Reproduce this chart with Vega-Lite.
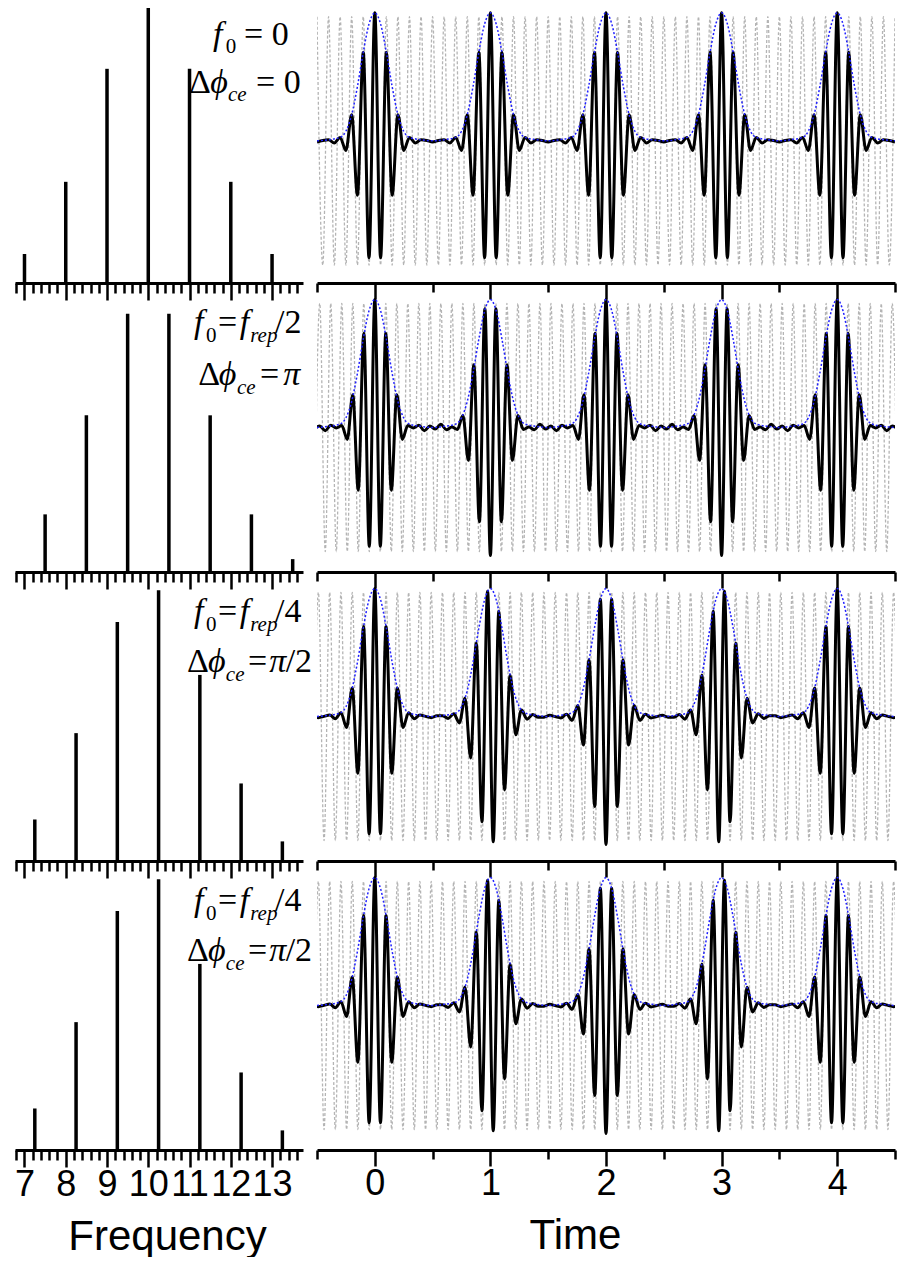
{
"$schema":"https://vega.github.io/schema/vega-lite/v6.json",
"background":"white",
"padding":{"left":14,"top":0,"right":0,"bottom":0},
"spacing":2,
"config":{"view":{"stroke":null},"axis":{"grid":false}},
"datasets":{
"comb":[
{"r":1,"f":7,"a":0.1054},{"r":1,"f":8,"a":0.3679},{"r":1,"f":9,"a":0.7788},{"r":1,"f":10,"a":1},{"r":1,"f":11,"a":0.7788},{"r":1,"f":12,"a":0.3679},{"r":1,"f":13,"a":0.1054},
{"r":2,"f":7.5,"a":0.2096},{"r":2,"f":8.5,"a":0.5698},{"r":2,"f":9.5,"a":0.9394},{"r":2,"f":10.5,"a":0.9394},{"r":2,"f":11.5,"a":0.5698},{"r":2,"f":12.5,"a":0.2096},{"r":2,"f":13.5,"a":0.0468},
{"r":3,"f":7.25,"a":0.151},{"r":3,"f":8.25,"a":0.465},{"r":3,"f":9.25,"a":0.869},{"r":3,"f":10.25,"a":0.9845},{"r":3,"f":11.25,"a":0.6767},{"r":3,"f":12.25,"a":0.282},{"r":3,"f":13.25,"a":0.0713}
],
"txt":[
{"r":1,"x":11.57,"y":0.865,"s":"f","k":"it","z":"m"},
{"r":1,"x":11.88,"y":0.836,"s":"0","k":"up","z":"s"},
{"r":1,"x":12.32,"y":0.865,"s":"= 0","k":"up","z":"m"},
{"r":1,"x":10.99,"y":0.691,"s":"Δ","k":"up","z":"m"},
{"r":1,"x":11.5,"y":0.691,"s":"ϕ","k":"it","z":"m"},
{"r":1,"x":11.93,"y":0.662,"s":"ce","k":"it","z":"s"},
{"r":1,"x":12.61,"y":0.691,"s":"= 0","k":"up","z":"m"},
{"r":2,"x":11.11,"y":0.869,"s":"f","k":"it","z":"m"},
{"r":2,"x":11.4,"y":0.836,"s":"0","k":"up","z":"s"},
{"r":2,"x":11.69,"y":0.869,"s":"=","k":"up","z":"m"},
{"r":2,"x":12.22,"y":0.869,"s":"f","k":"it","z":"m"},
{"r":2,"x":12.47,"y":0.836,"s":"rep","k":"it","z":"s"},
{"r":2,"x":13.07,"y":0.869,"s":"/2","k":"up","z":"m"},
{"r":2,"x":11.21,"y":0.68,"s":"Δ","k":"up","z":"m"},
{"r":2,"x":11.71,"y":0.68,"s":"ϕ","k":"it","z":"m"},
{"r":2,"x":12.15,"y":0.647,"s":"ce","k":"it","z":"s"},
{"r":2,"x":12.71,"y":0.68,"s":"=","k":"up","z":"m"},
{"r":2,"x":13.27,"y":0.68,"s":"π","k":"it","z":"m"},
{"r":3,"x":11.11,"y":0.869,"s":"f","k":"it","z":"m"},
{"r":3,"x":11.4,"y":0.836,"s":"0","k":"up","z":"s"},
{"r":3,"x":11.69,"y":0.869,"s":"=","k":"up","z":"m"},
{"r":3,"x":12.22,"y":0.869,"s":"f","k":"it","z":"m"},
{"r":3,"x":12.47,"y":0.836,"s":"rep","k":"it","z":"s"},
{"r":3,"x":13.07,"y":0.869,"s":"/4","k":"up","z":"m"},
{"r":3,"x":10.94,"y":0.687,"s":"Δ","k":"up","z":"m"},
{"r":3,"x":11.45,"y":0.687,"s":"ϕ","k":"it","z":"m"},
{"r":3,"x":11.88,"y":0.655,"s":"ce","k":"it","z":"s"},
{"r":3,"x":12.42,"y":0.687,"s":"=","k":"up","z":"m"},
{"r":3,"x":12.93,"y":0.687,"s":"π","k":"it","z":"m"},
{"r":3,"x":13.33,"y":0.687,"s":"/2","k":"up","z":"m"}
],
"env":[
{"t":-0.5,"e":0},{"t":-0.4,"e":0.009},{"t":-0.3,"e":0.027},{"t":-0.25,"e":0.075},{"t":-0.2,"e":0.204},{"t":-0.15,"e":0.425},{"t":-0.1,"e":0.691},{"t":-0.05,"e":0.913},{"t":0,"e":1},{"t":0.05,"e":0.913},{"t":0.1,"e":0.691},{"t":0.15,"e":0.425},{"t":0.2,"e":0.204},{"t":0.25,"e":0.075},{"t":0.3,"e":0.027},{"t":0.4,"e":0.009},
{"t":0.5,"e":0},{"t":0.6,"e":0.009},{"t":0.7,"e":0.027},{"t":0.75,"e":0.075},{"t":0.8,"e":0.204},{"t":0.85,"e":0.425},{"t":0.9,"e":0.691},{"t":0.95,"e":0.913},{"t":1,"e":1},{"t":1.05,"e":0.913},{"t":1.1,"e":0.691},{"t":1.15,"e":0.425},{"t":1.2,"e":0.204},{"t":1.25,"e":0.075},{"t":1.3,"e":0.027},{"t":1.4,"e":0.009},
{"t":1.5,"e":0},{"t":1.6,"e":0.009},{"t":1.7,"e":0.027},{"t":1.75,"e":0.075},{"t":1.8,"e":0.204},{"t":1.85,"e":0.425},{"t":1.9,"e":0.691},{"t":1.95,"e":0.913},{"t":2,"e":1},{"t":2.05,"e":0.913},{"t":2.1,"e":0.691},{"t":2.15,"e":0.425},{"t":2.2,"e":0.204},{"t":2.25,"e":0.075},{"t":2.3,"e":0.027},{"t":2.4,"e":0.009},
{"t":2.5,"e":0},{"t":2.6,"e":0.009},{"t":2.7,"e":0.027},{"t":2.75,"e":0.075},{"t":2.8,"e":0.204},{"t":2.85,"e":0.425},{"t":2.9,"e":0.691},{"t":2.95,"e":0.913},{"t":3,"e":1},{"t":3.05,"e":0.913},{"t":3.1,"e":0.691},{"t":3.15,"e":0.425},{"t":3.2,"e":0.204},{"t":3.25,"e":0.075},{"t":3.3,"e":0.027},{"t":3.4,"e":0.009},
{"t":3.5,"e":0},{"t":3.6,"e":0.009},{"t":3.7,"e":0.027},{"t":3.75,"e":0.075},{"t":3.8,"e":0.204},{"t":3.85,"e":0.425},{"t":3.9,"e":0.691},{"t":3.95,"e":0.913},{"t":4,"e":1},{"t":4.05,"e":0.913},{"t":4.1,"e":0.691},{"t":4.15,"e":0.425},{"t":4.2,"e":0.204},{"t":4.25,"e":0.075},{"t":4.3,"e":0.027},{"t":4.4,"e":0.009},{"t":4.5,"e":0}
],
"wave":[
{"r":1,"t":-0.5,"p":-0.009,"c":0.97},{"r":1,"t":-0.45,"p":0.003,"c":-0.97},{"r":1,"t":-0.4,"p":0.009,"c":0.97},{"r":1,"t":-0.35,"p":-0.016,"c":-0.97},{"r":1,"t":-0.3,"p":0.027,"c":0.97},{"r":1,"t":-0.25,"p":-0.075,"c":-0.97},{"r":1,"t":-0.2,"p":0.204,"c":0.97},{"r":1,"t":-0.15,"p":-0.425,"c":-0.97},{"r":1,"t":-0.1,"p":0.691,"c":0.97},{"r":1,"t":-0.05,"p":-0.913,"c":-0.97},
{"r":1,"t":0,"p":1,"c":0.97},{"r":1,"t":0.05,"p":-0.913,"c":-0.97},{"r":1,"t":0.1,"p":0.691,"c":0.97},{"r":1,"t":0.15,"p":-0.425,"c":-0.97},{"r":1,"t":0.2,"p":0.204,"c":0.97},{"r":1,"t":0.25,"p":-0.075,"c":-0.97},{"r":1,"t":0.3,"p":0.027,"c":0.97},{"r":1,"t":0.35,"p":-0.016,"c":-0.97},{"r":1,"t":0.4,"p":0.009,"c":0.97},{"r":1,"t":0.45,"p":0.003,"c":-0.97},
{"r":1,"t":0.5,"p":-0.009,"c":0.97},{"r":1,"t":0.55,"p":0.003,"c":-0.97},{"r":1,"t":0.6,"p":0.009,"c":0.97},{"r":1,"t":0.65,"p":-0.016,"c":-0.97},{"r":1,"t":0.7,"p":0.027,"c":0.97},{"r":1,"t":0.75,"p":-0.075,"c":-0.97},{"r":1,"t":0.8,"p":0.204,"c":0.97},{"r":1,"t":0.85,"p":-0.425,"c":-0.97},{"r":1,"t":0.9,"p":0.691,"c":0.97},{"r":1,"t":0.95,"p":-0.913,"c":-0.97},
{"r":1,"t":1,"p":1,"c":0.97},{"r":1,"t":1.05,"p":-0.913,"c":-0.97},{"r":1,"t":1.1,"p":0.691,"c":0.97},{"r":1,"t":1.15,"p":-0.425,"c":-0.97},{"r":1,"t":1.2,"p":0.204,"c":0.97},{"r":1,"t":1.25,"p":-0.075,"c":-0.97},{"r":1,"t":1.3,"p":0.027,"c":0.97},{"r":1,"t":1.35,"p":-0.016,"c":-0.97},{"r":1,"t":1.4,"p":0.009,"c":0.97},{"r":1,"t":1.45,"p":0.003,"c":-0.97},
{"r":1,"t":1.5,"p":-0.009,"c":0.97},{"r":1,"t":1.55,"p":0.003,"c":-0.97},{"r":1,"t":1.6,"p":0.009,"c":0.97},{"r":1,"t":1.65,"p":-0.016,"c":-0.97},{"r":1,"t":1.7,"p":0.027,"c":0.97},{"r":1,"t":1.75,"p":-0.075,"c":-0.97},{"r":1,"t":1.8,"p":0.204,"c":0.97},{"r":1,"t":1.85,"p":-0.425,"c":-0.97},{"r":1,"t":1.9,"p":0.691,"c":0.97},{"r":1,"t":1.95,"p":-0.913,"c":-0.97},
{"r":1,"t":2,"p":1,"c":0.97},{"r":1,"t":2.05,"p":-0.913,"c":-0.97},{"r":1,"t":2.1,"p":0.691,"c":0.97},{"r":1,"t":2.15,"p":-0.425,"c":-0.97},{"r":1,"t":2.2,"p":0.204,"c":0.97},{"r":1,"t":2.25,"p":-0.075,"c":-0.97},{"r":1,"t":2.3,"p":0.027,"c":0.97},{"r":1,"t":2.35,"p":-0.016,"c":-0.97},{"r":1,"t":2.4,"p":0.009,"c":0.97},{"r":1,"t":2.45,"p":0.003,"c":-0.97},
{"r":1,"t":2.5,"p":-0.009,"c":0.97},{"r":1,"t":2.55,"p":0.003,"c":-0.97},{"r":1,"t":2.6,"p":0.009,"c":0.97},{"r":1,"t":2.65,"p":-0.016,"c":-0.97},{"r":1,"t":2.7,"p":0.027,"c":0.97},{"r":1,"t":2.75,"p":-0.075,"c":-0.97},{"r":1,"t":2.8,"p":0.204,"c":0.97},{"r":1,"t":2.85,"p":-0.425,"c":-0.97},{"r":1,"t":2.9,"p":0.691,"c":0.97},{"r":1,"t":2.95,"p":-0.913,"c":-0.97},
{"r":1,"t":3,"p":1,"c":0.97},{"r":1,"t":3.05,"p":-0.913,"c":-0.97},{"r":1,"t":3.1,"p":0.691,"c":0.97},{"r":1,"t":3.15,"p":-0.425,"c":-0.97},{"r":1,"t":3.2,"p":0.204,"c":0.97},{"r":1,"t":3.25,"p":-0.075,"c":-0.97},{"r":1,"t":3.3,"p":0.027,"c":0.97},{"r":1,"t":3.35,"p":-0.016,"c":-0.97},{"r":1,"t":3.4,"p":0.009,"c":0.97},{"r":1,"t":3.45,"p":0.003,"c":-0.97},
{"r":1,"t":3.5,"p":-0.009,"c":0.97},{"r":1,"t":3.55,"p":0.003,"c":-0.97},{"r":1,"t":3.6,"p":0.009,"c":0.97},{"r":1,"t":3.65,"p":-0.016,"c":-0.97},{"r":1,"t":3.7,"p":0.027,"c":0.97},{"r":1,"t":3.75,"p":-0.075,"c":-0.97},{"r":1,"t":3.8,"p":0.204,"c":0.97},{"r":1,"t":3.85,"p":-0.425,"c":-0.97},{"r":1,"t":3.9,"p":0.691,"c":0.97},{"r":1,"t":3.95,"p":-0.913,"c":-0.97},
{"r":1,"t":4,"p":1,"c":0.97},{"r":1,"t":4.05,"p":-0.913,"c":-0.97},{"r":1,"t":4.1,"p":0.691,"c":0.97},{"r":1,"t":4.15,"p":-0.425,"c":-0.97},{"r":1,"t":4.2,"p":0.204,"c":0.97},{"r":1,"t":4.25,"p":-0.075,"c":-0.97},{"r":1,"t":4.3,"p":0.027,"c":0.97},{"r":1,"t":4.35,"p":-0.016,"c":-0.97},{"r":1,"t":4.4,"p":0.009,"c":0.97},{"r":1,"t":4.45,"p":0.003,"c":-0.97},
{"r":1,"t":4.5,"p":-0.009,"c":0.97},
{"r":2,"t":-0.5238,"p":-0.012,"c":-0.97},
{"r":2,"t":-0.4762,"p":0.012,"c":0.97},{"r":2,"t":-0.4286,"p":-0.025,"c":-0.97},{"r":2,"t":-0.381,"p":0.017,"c":0.97},{"r":2,"t":-0.3333,"p":-0.003,"c":-0.97},{"r":2,"t":-0.2857,"p":0.015,"c":0.97},{"r":2,"t":-0.2381,"p":-0.093,"c":-0.97},{"r":2,"t":-0.1905,"p":0.257,"c":0.97},{"r":2,"t":-0.1429,"p":-0.49,"c":-0.97},{"r":2,"t":-0.0952,"p":0.738,"c":0.97},{"r":2,"t":-0.0476,"p":-0.929,"c":-0.97},
{"r":2,"t":0,"p":1,"c":0.97},{"r":2,"t":0.0476,"p":-0.929,"c":-0.97},{"r":2,"t":0.0952,"p":0.738,"c":0.97},{"r":2,"t":0.1429,"p":-0.49,"c":-0.97},{"r":2,"t":0.1905,"p":0.257,"c":0.97},{"r":2,"t":0.2381,"p":-0.093,"c":-0.97},{"r":2,"t":0.2857,"p":0.015,"c":0.97},{"r":2,"t":0.3333,"p":-0.003,"c":-0.97},{"r":2,"t":0.381,"p":0.017,"c":0.97},{"r":2,"t":0.4286,"p":-0.025,"c":-0.97},{"r":2,"t":0.4762,"p":0.012,"c":0.97},
{"r":2,"t":0.5238,"p":-0.012,"c":-0.97},{"r":2,"t":0.5714,"p":0.025,"c":0.97},{"r":2,"t":0.619,"p":-0.017,"c":-0.97},{"r":2,"t":0.6667,"p":0.003,"c":0.97},{"r":2,"t":0.7143,"p":-0.015,"c":-0.97},{"r":2,"t":0.7619,"p":0.093,"c":0.97},{"r":2,"t":0.8095,"p":-0.257,"c":-0.97},{"r":2,"t":0.8571,"p":0.49,"c":0.97},{"r":2,"t":0.9048,"p":-0.738,"c":-0.97},{"r":2,"t":0.9524,"p":0.929,"c":0.97},
{"r":2,"t":1,"p":-1,"c":-0.97},{"r":2,"t":1.0476,"p":0.929,"c":0.97},{"r":2,"t":1.0952,"p":-0.738,"c":-0.97},{"r":2,"t":1.1429,"p":0.49,"c":0.97},{"r":2,"t":1.1905,"p":-0.257,"c":-0.97},{"r":2,"t":1.2381,"p":0.093,"c":0.97},{"r":2,"t":1.2857,"p":-0.015,"c":-0.97},{"r":2,"t":1.3333,"p":0.003,"c":0.97},{"r":2,"t":1.381,"p":-0.017,"c":-0.97},{"r":2,"t":1.4286,"p":0.025,"c":0.97},{"r":2,"t":1.4762,"p":-0.012,"c":-0.97},
{"r":2,"t":1.5238,"p":0.012,"c":0.97},{"r":2,"t":1.5714,"p":-0.025,"c":-0.97},{"r":2,"t":1.619,"p":0.017,"c":0.97},{"r":2,"t":1.6667,"p":-0.003,"c":-0.97},{"r":2,"t":1.7143,"p":0.015,"c":0.97},{"r":2,"t":1.7619,"p":-0.093,"c":-0.97},{"r":2,"t":1.8095,"p":0.257,"c":0.97},{"r":2,"t":1.8571,"p":-0.49,"c":-0.97},{"r":2,"t":1.9048,"p":0.738,"c":0.97},{"r":2,"t":1.9524,"p":-0.929,"c":-0.97},
{"r":2,"t":2,"p":1,"c":0.97},{"r":2,"t":2.0476,"p":-0.929,"c":-0.97},{"r":2,"t":2.0952,"p":0.738,"c":0.97},{"r":2,"t":2.1429,"p":-0.49,"c":-0.97},{"r":2,"t":2.1905,"p":0.257,"c":0.97},{"r":2,"t":2.2381,"p":-0.093,"c":-0.97},{"r":2,"t":2.2857,"p":0.015,"c":0.97},{"r":2,"t":2.3333,"p":-0.003,"c":-0.97},{"r":2,"t":2.381,"p":0.017,"c":0.97},{"r":2,"t":2.4286,"p":-0.025,"c":-0.97},{"r":2,"t":2.4762,"p":0.012,"c":0.97},
{"r":2,"t":2.5238,"p":-0.012,"c":-0.97},{"r":2,"t":2.5714,"p":0.025,"c":0.97},{"r":2,"t":2.619,"p":-0.017,"c":-0.97},{"r":2,"t":2.6667,"p":0.003,"c":0.97},{"r":2,"t":2.7143,"p":-0.015,"c":-0.97},{"r":2,"t":2.7619,"p":0.093,"c":0.97},{"r":2,"t":2.8095,"p":-0.257,"c":-0.97},{"r":2,"t":2.8571,"p":0.49,"c":0.97},{"r":2,"t":2.9048,"p":-0.738,"c":-0.97},{"r":2,"t":2.9524,"p":0.929,"c":0.97},
{"r":2,"t":3,"p":-1,"c":-0.97},{"r":2,"t":3.0476,"p":0.929,"c":0.97},{"r":2,"t":3.0952,"p":-0.738,"c":-0.97},{"r":2,"t":3.1429,"p":0.49,"c":0.97},{"r":2,"t":3.1905,"p":-0.257,"c":-0.97},{"r":2,"t":3.2381,"p":0.093,"c":0.97},{"r":2,"t":3.2857,"p":-0.015,"c":-0.97},{"r":2,"t":3.3333,"p":0.003,"c":0.97},{"r":2,"t":3.381,"p":-0.017,"c":-0.97},{"r":2,"t":3.4286,"p":0.025,"c":0.97},{"r":2,"t":3.4762,"p":-0.012,"c":-0.97},
{"r":2,"t":3.5238,"p":0.012,"c":0.97},{"r":2,"t":3.5714,"p":-0.025,"c":-0.97},{"r":2,"t":3.619,"p":0.017,"c":0.97},{"r":2,"t":3.6667,"p":-0.003,"c":-0.97},{"r":2,"t":3.7143,"p":0.015,"c":0.97},{"r":2,"t":3.7619,"p":-0.093,"c":-0.97},{"r":2,"t":3.8095,"p":0.257,"c":0.97},{"r":2,"t":3.8571,"p":-0.49,"c":-0.97},{"r":2,"t":3.9048,"p":0.738,"c":0.97},{"r":2,"t":3.9524,"p":-0.929,"c":-0.97},
{"r":2,"t":4,"p":1,"c":0.97},{"r":2,"t":4.0476,"p":-0.929,"c":-0.97},{"r":2,"t":4.0952,"p":0.738,"c":0.97},{"r":2,"t":4.1429,"p":-0.49,"c":-0.97},{"r":2,"t":4.1905,"p":0.257,"c":0.97},{"r":2,"t":4.2381,"p":-0.093,"c":-0.97},{"r":2,"t":4.2857,"p":0.015,"c":0.97},{"r":2,"t":4.3333,"p":-0.003,"c":-0.97},{"r":2,"t":4.381,"p":0.017,"c":0.97},{"r":2,"t":4.4286,"p":-0.025,"c":-0.97},{"r":2,"t":4.4762,"p":0.012,"c":0.97},
{"r":2,"t":4.5238,"p":-0.012,"c":-0.97},
{"r":3,"t":-0.5366,"p":0.005,"c":-0.97},{"r":3,"t":-0.4878,"p":-0.009,"c":0.97},{"r":3,"t":-0.439,"p":0.001,"c":-0.97},{"r":3,"t":-0.3902,"p":0.011,"c":0.97},{"r":3,"t":-0.3415,"p":-0.017,"c":-0.97},{"r":3,"t":-0.2927,"p":0.03,"c":0.97},{"r":3,"t":-0.2439,"p":-0.086,"c":-0.97},{"r":3,"t":-0.1951,"p":0.222,"c":0.97},{"r":3,"t":-0.1463,"p":-0.444,"c":-0.97},{"r":3,"t":-0.0976,"p":0.704,"c":0.97},{"r":3,"t":-0.0488,"p":-0.917,"c":-0.97},
{"r":3,"t":0,"p":1,"c":0.97},{"r":3,"t":0.0488,"p":-0.917,"c":-0.97},{"r":3,"t":0.0976,"p":0.704,"c":0.97},{"r":3,"t":0.1463,"p":-0.444,"c":-0.97},{"r":3,"t":0.1951,"p":0.222,"c":0.97},{"r":3,"t":0.2439,"p":-0.086,"c":-0.97},{"r":3,"t":0.2927,"p":0.03,"c":0.97},{"r":3,"t":0.3415,"p":-0.017,"c":-0.97},{"r":3,"t":0.3902,"p":0.011,"c":0.97},{"r":3,"t":0.439,"p":0.001,"c":-0.97},{"r":3,"t":0.4878,"p":-0.009,"c":0.97},
{"r":3,"t":0.5366,"p":0.005,"c":-0.97},{"r":3,"t":0.5854,"p":0.006,"c":0.97},{"r":3,"t":0.6341,"p":-0.015,"c":-0.97},{"r":3,"t":0.6829,"p":0.021,"c":0.97},{"r":3,"t":0.7317,"p":-0.05,"c":-0.97},{"r":3,"t":0.7805,"p":0.143,"c":0.97},{"r":3,"t":0.8293,"p":-0.324,"c":-0.97},{"r":3,"t":0.878,"p":0.574,"c":0.97},{"r":3,"t":0.9268,"p":-0.823,"c":-0.97},{"r":3,"t":0.9756,"p":0.979,"c":0.97},
{"r":3,"t":1.0244,"p":-0.979,"c":-0.97},{"r":3,"t":1.0732,"p":0.823,"c":0.97},{"r":3,"t":1.122,"p":-0.574,"c":-0.97},{"r":3,"t":1.1707,"p":0.324,"c":0.97},{"r":3,"t":1.2195,"p":-0.143,"c":-0.97},{"r":3,"t":1.2683,"p":0.05,"c":0.97},{"r":3,"t":1.3171,"p":-0.021,"c":-0.97},{"r":3,"t":1.3659,"p":0.015,"c":0.97},{"r":3,"t":1.4146,"p":-0.006,"c":-0.97},{"r":3,"t":1.4634,"p":-0.005,"c":0.97},
{"r":3,"t":1.5122,"p":0.009,"c":-0.97},{"r":3,"t":1.561,"p":-0.001,"c":0.97},{"r":3,"t":1.6098,"p":-0.011,"c":-0.97},{"r":3,"t":1.6585,"p":0.017,"c":0.97},{"r":3,"t":1.7073,"p":-0.03,"c":-0.97},{"r":3,"t":1.7561,"p":0.086,"c":0.97},{"r":3,"t":1.8049,"p":-0.222,"c":-0.97},{"r":3,"t":1.8537,"p":0.444,"c":0.97},{"r":3,"t":1.9024,"p":-0.704,"c":-0.97},{"r":3,"t":1.9512,"p":0.917,"c":0.97},
{"r":3,"t":2,"p":-1,"c":-0.97},{"r":3,"t":2.0488,"p":0.917,"c":0.97},{"r":3,"t":2.0976,"p":-0.704,"c":-0.97},{"r":3,"t":2.1463,"p":0.444,"c":0.97},{"r":3,"t":2.1951,"p":-0.222,"c":-0.97},{"r":3,"t":2.2439,"p":0.086,"c":0.97},{"r":3,"t":2.2927,"p":-0.03,"c":-0.97},{"r":3,"t":2.3415,"p":0.017,"c":0.97},{"r":3,"t":2.3902,"p":-0.011,"c":-0.97},{"r":3,"t":2.439,"p":-0.001,"c":0.97},{"r":3,"t":2.4878,"p":0.009,"c":-0.97},
{"r":3,"t":2.5366,"p":-0.005,"c":0.97},{"r":3,"t":2.5854,"p":-0.006,"c":-0.97},{"r":3,"t":2.6341,"p":0.015,"c":0.97},{"r":3,"t":2.6829,"p":-0.021,"c":-0.97},{"r":3,"t":2.7317,"p":0.05,"c":0.97},{"r":3,"t":2.7805,"p":-0.143,"c":-0.97},{"r":3,"t":2.8293,"p":0.324,"c":0.97},{"r":3,"t":2.878,"p":-0.574,"c":-0.97},{"r":3,"t":2.9268,"p":0.823,"c":0.97},{"r":3,"t":2.9756,"p":-0.979,"c":-0.97},
{"r":3,"t":3.0244,"p":0.979,"c":0.97},{"r":3,"t":3.0732,"p":-0.823,"c":-0.97},{"r":3,"t":3.122,"p":0.574,"c":0.97},{"r":3,"t":3.1707,"p":-0.324,"c":-0.97},{"r":3,"t":3.2195,"p":0.143,"c":0.97},{"r":3,"t":3.2683,"p":-0.05,"c":-0.97},{"r":3,"t":3.3171,"p":0.021,"c":0.97},{"r":3,"t":3.3659,"p":-0.015,"c":-0.97},{"r":3,"t":3.4146,"p":0.006,"c":0.97},{"r":3,"t":3.4634,"p":0.005,"c":-0.97},
{"r":3,"t":3.5122,"p":-0.009,"c":0.97},{"r":3,"t":3.561,"p":0.001,"c":-0.97},{"r":3,"t":3.6098,"p":0.011,"c":0.97},{"r":3,"t":3.6585,"p":-0.017,"c":-0.97},{"r":3,"t":3.7073,"p":0.03,"c":0.97},{"r":3,"t":3.7561,"p":-0.086,"c":-0.97},{"r":3,"t":3.8049,"p":0.222,"c":0.97},{"r":3,"t":3.8537,"p":-0.444,"c":-0.97},{"r":3,"t":3.9024,"p":0.704,"c":0.97},{"r":3,"t":3.9512,"p":-0.917,"c":-0.97},
{"r":3,"t":4,"p":1,"c":0.97},{"r":3,"t":4.0488,"p":-0.917,"c":-0.97},{"r":3,"t":4.0976,"p":0.704,"c":0.97},{"r":3,"t":4.1463,"p":-0.444,"c":-0.97},{"r":3,"t":4.1951,"p":0.222,"c":0.97},{"r":3,"t":4.2439,"p":-0.086,"c":-0.97},{"r":3,"t":4.2927,"p":0.03,"c":0.97},{"r":3,"t":4.3415,"p":-0.017,"c":-0.97},{"r":3,"t":4.3902,"p":0.011,"c":0.97},{"r":3,"t":4.439,"p":0.001,"c":-0.97},{"r":3,"t":4.4878,"p":-0.009,"c":0.97},
{"r":3,"t":4.5366,"p":0.005,"c":-0.97}
]
},
"hconcat":[
{"vconcat":[
 {"width":288,"height":283,"resolve":{"axis":{"x":"independent"}},"layer":[
  {"data":{"name":"comb"},"transform":[{"filter":"datum.r == 1"}],"mark":{"type":"rule","strokeWidth":3.5,"color":"black","strokeCap":"butt"},
   "encoding":{"x":{"field":"f","type":"quantitative","scale":{"domain":[6.77,13.75],"nice":false,"zero":false},
     "axis":{"orient":"bottom","values":[7,8,9,10,11,12,13],"domainColor":"black","domainWidth":3,"tickColor":"black","tickWidth":2.5,"tickSize":17,"labels":false,"title":null}},
    "y":{"field":"a","type":"quantitative","scale":{"domain":[0,1.029],"nice":false},"axis":null},"y2":{"datum":0}}},
  {"data":{"name":"txt"},"transform":[{"filter":"datum.r == 1 && datum.k == 'it'"}],"mark":{"type":"text","font":"Liberation Serif","fontStyle":"italic","align":"left","baseline":"alphabetic","color":"black"},
   "encoding":{"x":{"field":"x","type":"quantitative","scale":{"domain":[6.77,13.75],"nice":false,"zero":false},
     "axis":{"orient":"bottom","values":[6.8,7.2,7.4,7.6,7.8,8.2,8.4,8.6,8.8,9.2,9.4,9.6,9.8,10.2,10.4,10.6,10.8,11.2,11.4,11.6,11.8,12.2,12.4,12.6,12.8,13.2,13.4,13.6],"domain":false,"tickColor":"black","tickWidth":2.5,"tickSize":10,"labels":false,"title":null}},
    "y":{"field":"y","type":"quantitative","scale":{"domain":[0,1.029],"nice":false},"axis":null},"text":{"field":"s"},"size":{"field":"z","type":"ordinal","scale":{"domain":["m","s"],"range":[34,21]},"legend":null}}},
  {"data":{"name":"txt"},"transform":[{"filter":"datum.r == 1 && datum.k == 'up'"}],"mark":{"type":"text","font":"Liberation Serif","align":"left","baseline":"alphabetic","color":"black"},
   "encoding":{"x":{"field":"x","type":"quantitative","scale":{"domain":[6.77,13.75],"nice":false,"zero":false},"axis":null},"y":{"field":"y","type":"quantitative","scale":{"domain":[0,1.029],"nice":false},"axis":null},"text":{"field":"s"},"size":{"field":"z","type":"ordinal","scale":{"domain":["m","s"],"range":[34,21]},"legend":null}}}
 ]},
 {"width":288,"height":289,"resolve":{"axis":{"x":"independent"}},"layer":[
  {"data":{"name":"comb"},"transform":[{"filter":"datum.r == 2"}],"mark":{"type":"rule","strokeWidth":3.5,"color":"black","strokeCap":"butt"},
   "encoding":{"x":{"field":"f","type":"quantitative","scale":{"domain":[6.77,13.75],"nice":false,"zero":false},
     "axis":{"orient":"bottom","values":[7,8,9,10,11,12,13],"domainColor":"black","domainWidth":3,"tickColor":"black","tickWidth":2.5,"tickSize":17,"labels":false,"title":null}},
    "y":{"field":"a","type":"quantitative","scale":{"domain":[0,1.051],"nice":false},"axis":null},"y2":{"datum":0}}},
  {"data":{"name":"txt"},"transform":[{"filter":"datum.r == 2 && datum.k == 'it'"}],"mark":{"type":"text","font":"Liberation Serif","fontStyle":"italic","align":"left","baseline":"alphabetic","color":"black"},
   "encoding":{"x":{"field":"x","type":"quantitative","scale":{"domain":[6.77,13.75],"nice":false,"zero":false},
     "axis":{"orient":"bottom","values":[6.8,7.2,7.4,7.6,7.8,8.2,8.4,8.6,8.8,9.2,9.4,9.6,9.8,10.2,10.4,10.6,10.8,11.2,11.4,11.6,11.8,12.2,12.4,12.6,12.8,13.2,13.4,13.6],"domain":false,"tickColor":"black","tickWidth":2.5,"tickSize":10,"labels":false,"title":null}},
    "y":{"field":"y","type":"quantitative","scale":{"domain":[0,1.051],"nice":false},"axis":null},"text":{"field":"s"},"size":{"field":"z","type":"ordinal","scale":{"domain":["m","s"],"range":[34,21]},"legend":null}}},
  {"data":{"name":"txt"},"transform":[{"filter":"datum.r == 2 && datum.k == 'up'"}],"mark":{"type":"text","font":"Liberation Serif","align":"left","baseline":"alphabetic","color":"black"},
   "encoding":{"x":{"field":"x","type":"quantitative","scale":{"domain":[6.77,13.75],"nice":false,"zero":false},"axis":null},"y":{"field":"y","type":"quantitative","scale":{"domain":[0,1.051],"nice":false},"axis":null},"text":{"field":"s"},"size":{"field":"z","type":"ordinal","scale":{"domain":["m","s"],"range":[34,21]},"legend":null}}}
 ]},
 {"width":288,"height":289,"resolve":{"axis":{"x":"independent"}},"layer":[
  {"data":{"name":"comb"},"transform":[{"filter":"datum.r == 3"}],"mark":{"type":"rule","strokeWidth":3.5,"color":"black","strokeCap":"butt"},
   "encoding":{"x":{"field":"f","type":"quantitative","scale":{"domain":[6.77,13.75],"nice":false,"zero":false},
     "axis":{"orient":"bottom","values":[7,8,9,10,11,12,13],"domainColor":"black","domainWidth":3,"tickColor":"black","tickWidth":2.5,"tickSize":17,"labels":false,"title":null}},
    "y":{"field":"a","type":"quantitative","scale":{"domain":[0,1.051],"nice":false},"axis":null},"y2":{"datum":0}}},
  {"data":{"name":"txt"},"transform":[{"filter":"datum.r == 3 && datum.k == 'it'"}],"mark":{"type":"text","font":"Liberation Serif","fontStyle":"italic","align":"left","baseline":"alphabetic","color":"black"},
   "encoding":{"x":{"field":"x","type":"quantitative","scale":{"domain":[6.77,13.75],"nice":false,"zero":false},
     "axis":{"orient":"bottom","values":[6.8,7.2,7.4,7.6,7.8,8.2,8.4,8.6,8.8,9.2,9.4,9.6,9.8,10.2,10.4,10.6,10.8,11.2,11.4,11.6,11.8,12.2,12.4,12.6,12.8,13.2,13.4,13.6],"domain":false,"tickColor":"black","tickWidth":2.5,"tickSize":10,"labels":false,"title":null}},
    "y":{"field":"y","type":"quantitative","scale":{"domain":[0,1.051],"nice":false},"axis":null},"text":{"field":"s"},"size":{"field":"z","type":"ordinal","scale":{"domain":["m","s"],"range":[34,21]},"legend":null}}},
  {"data":{"name":"txt"},"transform":[{"filter":"datum.r == 3 && datum.k == 'up'"}],"mark":{"type":"text","font":"Liberation Serif","align":"left","baseline":"alphabetic","color":"black"},
   "encoding":{"x":{"field":"x","type":"quantitative","scale":{"domain":[6.77,13.75],"nice":false,"zero":false},"axis":null},"y":{"field":"y","type":"quantitative","scale":{"domain":[0,1.051],"nice":false},"axis":null},"text":{"field":"s"},"size":{"field":"z","type":"ordinal","scale":{"domain":["m","s"],"range":[34,21]},"legend":null}}}
 ]},
 {"width":288,"height":289,"resolve":{"axis":{"x":"independent"}},"layer":[
  {"data":{"name":"comb"},"transform":[{"filter":"datum.r == 3"}],"mark":{"type":"rule","strokeWidth":3.5,"color":"black","strokeCap":"butt"},
   "encoding":{"x":{"field":"f","type":"quantitative","scale":{"domain":[6.77,13.75],"nice":false,"zero":false},
     "axis":{"orient":"bottom","values":[7,8,9,10,11,12,13],"domainColor":"black","domainWidth":3,"tickColor":"black","tickWidth":2.5,"tickSize":17,
      "labels":true,"labelFont":"Liberation Sans","labelFontSize":36,"labelColor":"black","labelOverlap":false,"labelFlush":false,"labelPadding":0,
      "title":"Frequency","titleFont":"Liberation Sans","titleFontSize":42,"titleFontWeight":"normal","titleColor":"black","titlePadding":14,"titleX":152}},
    "y":{"field":"a","type":"quantitative","scale":{"domain":[0,1.051],"nice":false},"axis":null},"y2":{"datum":0}}},
  {"data":{"name":"txt"},"transform":[{"filter":"datum.r == 3 && datum.k == 'it'"}],"mark":{"type":"text","font":"Liberation Serif","fontStyle":"italic","align":"left","baseline":"alphabetic","color":"black"},
   "encoding":{"x":{"field":"x","type":"quantitative","scale":{"domain":[6.77,13.75],"nice":false,"zero":false},
     "axis":{"orient":"bottom","values":[6.8,7.2,7.4,7.6,7.8,8.2,8.4,8.6,8.8,9.2,9.4,9.6,9.8,10.2,10.4,10.6,10.8,11.2,11.4,11.6,11.8,12.2,12.4,12.6,12.8,13.2,13.4,13.6],"domain":false,"tickColor":"black","tickWidth":2.5,"tickSize":10,"labels":false,"title":null}},
    "y":{"field":"y","type":"quantitative","scale":{"domain":[0,1.051],"nice":false},"axis":null},"text":{"field":"s"},"size":{"field":"z","type":"ordinal","scale":{"domain":["m","s"],"range":[34,21]},"legend":null}}},
  {"data":{"name":"txt"},"transform":[{"filter":"datum.r == 3 && datum.k == 'up'"}],"mark":{"type":"text","font":"Liberation Serif","align":"left","baseline":"alphabetic","color":"black"},
   "encoding":{"x":{"field":"x","type":"quantitative","scale":{"domain":[6.77,13.75],"nice":false,"zero":false},"axis":null},"y":{"field":"y","type":"quantitative","scale":{"domain":[0,1.051],"nice":false},"axis":null},"text":{"field":"s"},"size":{"field":"z","type":"ordinal","scale":{"domain":["m","s"],"range":[34,21]},"legend":null}}}
 ]}
],"spacing":0,"bounds":"flush"},
{"vconcat":[
 {"width":578,"height":283,"resolve":{"axis":{"x":"independent"}},"layer":[
  {"data":{"name":"wave"},"transform":[{"filter":"datum.r == 1"}],"mark":{"type":"line","interpolate":"monotone","color":"#b4b4b4","strokeWidth":1.3,"strokeDash":[3,2],"clip":true},
   "encoding":{"x":{"field":"t","type":"quantitative","scale":{"domain":[-0.5,4.5],"nice":false,"zero":false},
     "axis":{"orient":"bottom","values":[0,1,2,3,4],"domainColor":"black","domainWidth":3,"tickColor":"black","tickWidth":2.5,"tickSize":16,"labels":false,"title":null}},
    "y":{"field":"c","type":"quantitative","scale":{"domain":[-1.11,1.1],"nice":false,"zero":false},"axis":null}}},
  {"data":{"name":"wave"},"transform":[{"filter":"datum.r == 1"}],"mark":{"type":"line","interpolate":"monotone","color":"black","strokeWidth":3,"clip":true},
   "encoding":{"x":{"field":"t","type":"quantitative","scale":{"domain":[-0.5,4.5],"nice":false,"zero":false},
     "axis":{"orient":"bottom","values":[-0.5,0.5,1.5,2.5,3.5,4.5],"domain":false,"tickColor":"black","tickWidth":2.5,"tickSize":9,"labels":false,"title":null}},
    "y":{"field":"p","type":"quantitative","scale":{"domain":[-1.11,1.1],"nice":false,"zero":false},"axis":null}}},
  {"data":{"name":"env"},"mark":{"type":"line","interpolate":"monotone","color":"#2020ff","strokeWidth":1.5,"strokeDash":[2,2],"clip":true},
   "encoding":{"x":{"field":"t","type":"quantitative","scale":{"domain":[-0.5,4.5],"nice":false,"zero":false},"axis":null},"y":{"field":"e","type":"quantitative","scale":{"domain":[-1.11,1.1],"nice":false,"zero":false},"axis":null}}}
 ]},
 {"width":578,"height":289,"resolve":{"axis":{"x":"independent"}},"layer":[
  {"data":{"name":"wave"},"transform":[{"filter":"datum.r == 2"}],"mark":{"type":"line","interpolate":"monotone","color":"#b4b4b4","strokeWidth":1.3,"strokeDash":[3,2],"clip":true},
   "encoding":{"x":{"field":"t","type":"quantitative","scale":{"domain":[-0.5,4.5],"nice":false,"zero":false},
     "axis":{"orient":"bottom","values":[0,1,2,3,4],"domainColor":"black","domainWidth":3,"tickColor":"black","tickWidth":2.5,"tickSize":16,"labels":false,"title":null}},
    "y":{"field":"c","type":"quantitative","scale":{"domain":[-1.13,1.13],"nice":false,"zero":false},"axis":null}}},
  {"data":{"name":"wave"},"transform":[{"filter":"datum.r == 2"}],"mark":{"type":"line","interpolate":"monotone","color":"black","strokeWidth":3,"clip":true},
   "encoding":{"x":{"field":"t","type":"quantitative","scale":{"domain":[-0.5,4.5],"nice":false,"zero":false},
     "axis":{"orient":"bottom","values":[-0.5,0.5,1.5,2.5,3.5,4.5],"domain":false,"tickColor":"black","tickWidth":2.5,"tickSize":9,"labels":false,"title":null}},
    "y":{"field":"p","type":"quantitative","scale":{"domain":[-1.13,1.13],"nice":false,"zero":false},"axis":null}}},
  {"data":{"name":"env"},"mark":{"type":"line","interpolate":"monotone","color":"#2020ff","strokeWidth":1.5,"strokeDash":[2,2],"clip":true},
   "encoding":{"x":{"field":"t","type":"quantitative","scale":{"domain":[-0.5,4.5],"nice":false,"zero":false},"axis":null},"y":{"field":"e","type":"quantitative","scale":{"domain":[-1.13,1.13],"nice":false,"zero":false},"axis":null}}}
 ]},
 {"width":578,"height":289,"resolve":{"axis":{"x":"independent"}},"layer":[
  {"data":{"name":"wave"},"transform":[{"filter":"datum.r == 3"}],"mark":{"type":"line","interpolate":"monotone","color":"#b4b4b4","strokeWidth":1.3,"strokeDash":[3,2],"clip":true},
   "encoding":{"x":{"field":"t","type":"quantitative","scale":{"domain":[-0.5,4.5],"nice":false,"zero":false},
     "axis":{"orient":"bottom","values":[0,1,2,3,4],"domainColor":"black","domainWidth":3,"tickColor":"black","tickWidth":2.5,"tickSize":16,"labels":false,"title":null}},
    "y":{"field":"c","type":"quantitative","scale":{"domain":[-1.13,1.13],"nice":false,"zero":false},"axis":null}}},
  {"data":{"name":"wave"},"transform":[{"filter":"datum.r == 3"}],"mark":{"type":"line","interpolate":"monotone","color":"black","strokeWidth":3,"clip":true},
   "encoding":{"x":{"field":"t","type":"quantitative","scale":{"domain":[-0.5,4.5],"nice":false,"zero":false},
     "axis":{"orient":"bottom","values":[-0.5,0.5,1.5,2.5,3.5,4.5],"domain":false,"tickColor":"black","tickWidth":2.5,"tickSize":9,"labels":false,"title":null}},
    "y":{"field":"p","type":"quantitative","scale":{"domain":[-1.13,1.13],"nice":false,"zero":false},"axis":null}}},
  {"data":{"name":"env"},"mark":{"type":"line","interpolate":"monotone","color":"#2020ff","strokeWidth":1.5,"strokeDash":[2,2],"clip":true},
   "encoding":{"x":{"field":"t","type":"quantitative","scale":{"domain":[-0.5,4.5],"nice":false,"zero":false},"axis":null},"y":{"field":"e","type":"quantitative","scale":{"domain":[-1.13,1.13],"nice":false,"zero":false},"axis":null}}}
 ]},
 {"width":578,"height":289,"resolve":{"axis":{"x":"independent"}},"layer":[
  {"data":{"name":"wave"},"transform":[{"filter":"datum.r == 3"}],"mark":{"type":"line","interpolate":"monotone","color":"#b4b4b4","strokeWidth":1.3,"strokeDash":[3,2],"clip":true},
   "encoding":{"x":{"field":"t","type":"quantitative","scale":{"domain":[-0.5,4.5],"nice":false,"zero":false},
     "axis":{"orient":"bottom","values":[0,1,2,3,4],"domainColor":"black","domainWidth":3,"tickColor":"black","tickWidth":2.5,"tickSize":16,
      "labels":true,"labelFont":"Liberation Sans","labelFontSize":36,"labelColor":"black","labelOverlap":false,"labelFlush":false,"labelPadding":0,
      "title":"Time","titleFont":"Liberation Sans","titleFontSize":42,"titleFontWeight":"normal","titleColor":"black","titlePadding":14,"titleX":258}},
    "y":{"field":"c","type":"quantitative","scale":{"domain":[-1.13,1.13],"nice":false,"zero":false},"axis":null}}},
  {"data":{"name":"wave"},"transform":[{"filter":"datum.r == 3"}],"mark":{"type":"line","interpolate":"monotone","color":"black","strokeWidth":3,"clip":true},
   "encoding":{"x":{"field":"t","type":"quantitative","scale":{"domain":[-0.5,4.5],"nice":false,"zero":false},
     "axis":{"orient":"bottom","values":[-0.5,0.5,1.5,2.5,3.5,4.5],"domain":false,"tickColor":"black","tickWidth":2.5,"tickSize":9,"labels":false,"title":null}},
    "y":{"field":"p","type":"quantitative","scale":{"domain":[-1.13,1.13],"nice":false,"zero":false},"axis":null}}},
  {"data":{"name":"env"},"mark":{"type":"line","interpolate":"monotone","color":"#2020ff","strokeWidth":1.5,"strokeDash":[2,2],"clip":true},
   "encoding":{"x":{"field":"t","type":"quantitative","scale":{"domain":[-0.5,4.5],"nice":false,"zero":false},"axis":null},"y":{"field":"e","type":"quantitative","scale":{"domain":[-1.13,1.13],"nice":false,"zero":false},"axis":null}}}
 ]}
],"spacing":0,"bounds":"flush"}
]
}
